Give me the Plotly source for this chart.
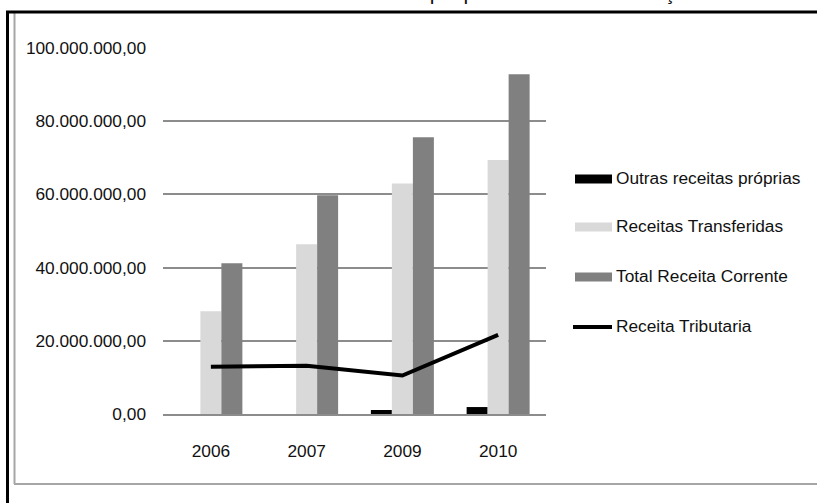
import plotly.graph_objects as go

# ---- data ----
years = ["2006", "2007", "2009", "2010"]
outras_receitas = [0, 0, 1_100_000, 1_900_000]
receitas_transferidas = [28_100_000, 46_400_000, 63_000_000, 69_400_000]
total_receita_corrente = [41_200_000, 59_800_000, 75_600_000, 92_800_000]
receita_tributaria = [12_900_000, 13_200_000, 10_500_000, 21_600_000]

series_names = ["Outras receitas próprias", "Receitas Transferidas",
                "Total Receita Corrente", "Receita Tributaria"]
y_ticks = [0, 20_000_000, 40_000_000, 60_000_000, 80_000_000, 100_000_000]
title_text = "Gráfico 6 – Receita do Município por fonte de arrecadação"

# ---- style ----
W, H = 817, 503
L, R, T, B = 163, 546, 48, 414
FONT = "Liberation Sans, Arial, sans-serif"
FS = 17.3
C_BLACK, C_LIGHT, C_DARK = "#000000", "#d9d9d9", "#808080"
GRID = "#8c8c8c"
TXT = "#111111"


def px_x(px):
    return (px - L) / (R - L)


def px_y(py):
    return (B - py) / (B - T)


fig = go.Figure()
fig.add_trace(go.Bar(x=years, y=outras_receitas, name=series_names[0],
                     marker=dict(color=C_BLACK, line=dict(width=0))))
fig.add_trace(go.Bar(x=years, y=receitas_transferidas, name=series_names[1],
                     marker=dict(color=C_LIGHT, line=dict(width=0))))
fig.add_trace(go.Bar(x=years, y=total_receita_corrente, name=series_names[2],
                     marker=dict(color=C_DARK, line=dict(width=0))))
fig.add_trace(go.Scatter(x=years, y=receita_tributaria, name=series_names[3],
                         mode="lines", line=dict(color=C_BLACK, width=4)))

shapes = []
annotations = []

# custom legend
legend_rows = [179, 227, 277, 327]
legend_colors = [C_BLACK, C_LIGHT, C_DARK]
for i, name in enumerate(series_names):
    cy = legend_rows[i]
    if i < 3:
        shapes.append(dict(type="rect", xref="paper", yref="paper",
                           x0=px_x(575), x1=px_x(612),
                           y0=px_y(cy + 4.5), y1=px_y(cy - 4.5),
                           fillcolor=legend_colors[i], line=dict(width=0)))
    else:
        shapes.append(dict(type="line", xref="paper", yref="paper",
                           x0=px_x(573), x1=px_x(612),
                           y0=px_y(cy), y1=px_y(cy),
                           line=dict(color=C_BLACK, width=4)))
    annotations.append(dict(text=name, xref="paper", yref="paper",
                            x=px_x(614), y=px_y(cy - 1), xanchor="left",
                            yanchor="middle", showarrow=False,
                            font=dict(family=FONT, size=FS, color=TXT)))

# frames
shapes.append(dict(type="line", xref="paper", yref="paper",
                   x0=px_x(14), x1=px_x(817), y0=px_y(484), y1=px_y(484),
                   line=dict(color="#a6a6a6", width=2)))
shapes.append(dict(type="line", xref="paper", yref="paper",
                   x0=px_x(14.5), x1=px_x(14.5), y0=px_y(13), y1=px_y(484),
                   line=dict(color="#a6a6a6", width=2)))
shapes.append(dict(type="line", xref="paper", yref="paper",
                   x0=px_x(6), x1=px_x(817), y0=px_y(12), y1=px_y(12),
                   line=dict(color="#000000", width=3)))
shapes.append(dict(type="line", xref="paper", yref="paper",
                   x0=px_x(7.5), x1=px_x(7.5), y0=px_y(11), y1=px_y(503),
                   line=dict(color="#000000", width=3)))

# clipped title at very top
annotations.append(dict(text=title_text, xref="paper", yref="paper",
                        x=px_x(425), y=px_y(6.5), xanchor="center",
                        yanchor="bottom", showarrow=False,
                        font=dict(family=FONT, size=21, color=TXT)))

fig.update_layout(
    width=W, height=H,
    margin=dict(l=L, r=W - R, t=T, b=H - B, pad=0, autoexpand=False),
    paper_bgcolor="white", plot_bgcolor="white",
    barmode="group", bargap=0.342, bargroupgap=0,
    showlegend=False,
    separators=",.",
    font=dict(family=FONT, size=FS, color=TXT),
    shapes=shapes, annotations=annotations,
)
fig.update_xaxes(showgrid=False, showline=True, linecolor=GRID, linewidth=1.5,
                 ticks="", ticklabelstandoff=20, automargin=False,
                 tickfont=dict(family=FONT, size=FS, color=TXT))
fig.update_yaxes(range=[0, 100_000_000], tickvals=y_ticks, tickformat=",.2f",
                 showgrid=True, gridcolor=GRID, gridwidth=1.5,
                 zeroline=False, showline=False, ticks="",
                 ticklabelstandoff=16, automargin=False,
                 tickfont=dict(family=FONT, size=FS, color=TXT))

fig.write_html("out.html")
